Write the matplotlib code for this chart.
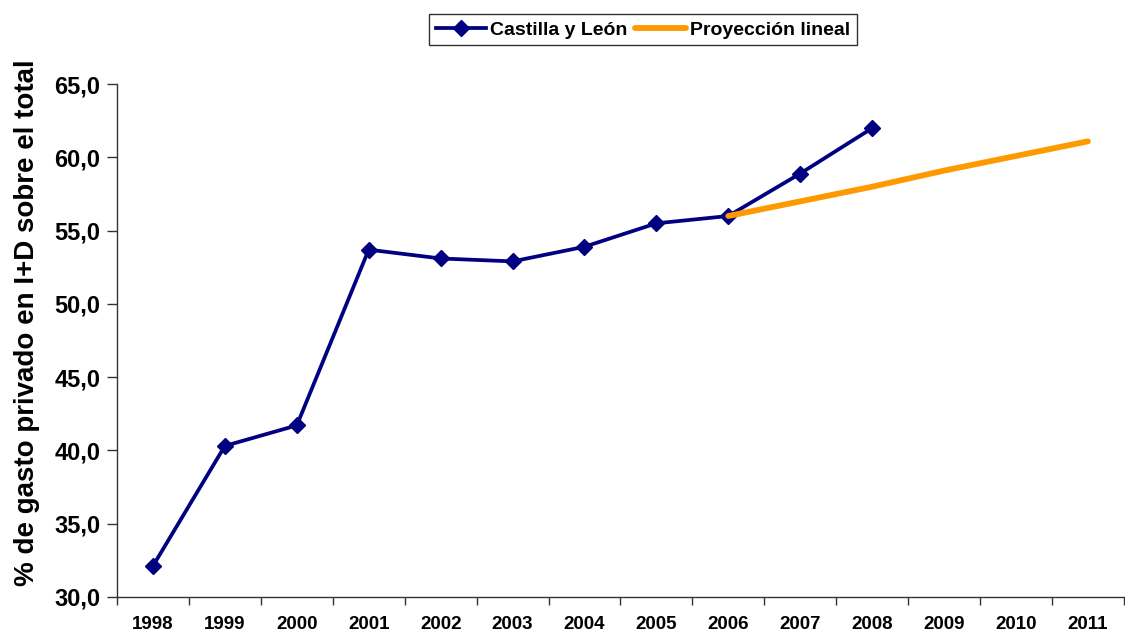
import numpy as np
import matplotlib
matplotlib.use("Agg")
import matplotlib.pyplot as plt
from matplotlib.ticker import FixedLocator, FuncFormatter

plt.rcParams["font.family"] = ["Liberation Sans", "DejaVu Sans"]
plt.rcParams["font.weight"] = "bold"

years = ["1998", "1999", "2000", "2001", "2002", "2003", "2004",
         "2005", "2006", "2007", "2008", "2009", "2010", "2011"]
castilla = [32.1, 40.3, 41.7, 53.7, 53.1, 52.9, 53.9, 55.5, 56.0, 58.9, 62.0]
proj_years = ["2006", "2007", "2008", "2009", "2010", "2011"]
proyeccion = [56.0, 57.0, 58.0, 59.1, 60.1, 61.1]

x_all = np.arange(len(years))
x_cyl = x_all[:len(castilla)]
x_proj = np.array([years.index(y) for y in proj_years])

fig = plt.figure(figsize=(11.25, 6.38), dpi=100)
ax = fig.add_axes([0.104, 0.0647, 0.895, 0.8033])

ax.plot(x_cyl, castilla, color="#000080", linewidth=2.7, marker="D",
        markersize=8, label="Castilla y León", zorder=3)
ax.plot(x_proj, proyeccion, color="#FF9900", linewidth=4.2,
        solid_capstyle="round", label="Proyección lineal", zorder=4)

ax.set_xlim(-0.5, len(years) - 0.5)
ax.set_ylim(30, 65)
ax.set_yticks(np.arange(30, 66, 5))
ax.yaxis.set_major_formatter(FuncFormatter(lambda v, p: f"{v:.1f}".replace(".", ",")))

ax.set_xticks(x_all)
ax.set_xticklabels(years)
ax.xaxis.set_minor_locator(FixedLocator(np.arange(-0.5, len(years), 1.0)))
ax.tick_params(axis="x", which="major", length=0, pad=14, labelsize=13.5)
ax.tick_params(axis="x", which="minor", length=6, width=1, color="#333333", direction="out")
ax.tick_params(axis="y", length=7, width=1, color="#333333", labelsize=17, pad=5)
for lab in ax.get_xticklabels() + ax.get_yticklabels():
    lab.set_fontweight("bold")

for side in ["top", "right"]:
    ax.spines[side].set_visible(False)
for side in ["left", "bottom"]:
    ax.spines[side].set_color("#333333")
    ax.spines[side].set_linewidth(1.0)

ax.set_ylabel("% de gasto privado en I+D sobre el total", fontsize=20,
              fontweight="bold")
ax.yaxis.set_label_coords(-0.076, 0.535)

leg = fig.legend(loc="upper center", bbox_to_anchor=(0.5715, 0.993), ncol=2,
                 frameon=True, fancybox=False, shadow=False, fontsize=14,
                 handlelength=2.6, handletextpad=0.2, columnspacing=0.4,
                 borderpad=0.35, edgecolor="black")
leg.get_frame().set_linewidth(1.0)
for t in leg.get_texts():
    t.set_fontweight("bold")

fig.savefig("out.png", dpi=100)
